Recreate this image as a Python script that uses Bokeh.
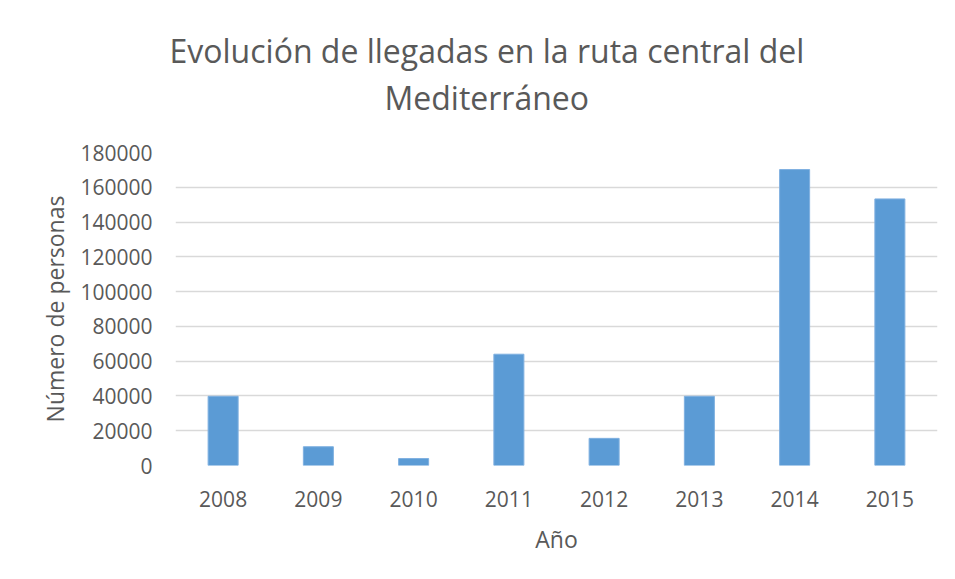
from bokeh.plotting import figure
from bokeh.models import FixedTicker, NumeralTickFormatter, ColumnDataSource, Range1d, FactorRange, Title
from bokeh.embed import file_html
from bokeh.resources import INLINE

years = ["2008", "2009", "2010", "2011", "2012", "2013", "2014", "2015"]
arrivals = [39800, 10800, 4000, 64000, 15600, 39800, 170200, 153300]
y_ticks = [0, 20000, 40000, 60000, 80000, 100000, 120000, 140000, 160000, 180000]
title_lines = ["Evolución de llegadas en la ruta central del", "Mediterráneo"]

TEXT = "#595959"
FONT = "Open Sans"

src = ColumnDataSource(dict(year=years, value=arrivals))

p = figure(
    x_range=FactorRange(*years), y_range=Range1d(0, 180000),
    width=947, height=571, output_backend="svg", toolbar_location=None,
    min_border_left=175, min_border_right=10, min_border_top=152, min_border_bottom=106,
)
p.vbar(x="year", top="value", width=0.315, source=src,
       fill_color="#5b9bd5", line_color="#7fb0e0", line_width=1)

# first title line (figure title, outermost)
p.title.text = title_lines[0]
p.title.align = "left"
p.title.offset = -6
p.title.text_font = FONT
p.title.text_font_size = "32px"
p.title.text_font_style = "normal"
p.title.text_color = TEXT
p.title.standoff = 0
# spacing between title block and plot area (first in 'above' -> nearest the plot)
p.add_layout(Title(text=" ", text_font_size="10px", standoff=19), "above")
# second title line
p.add_layout(Title(text=title_lines[1], align="left", offset=209, text_font=FONT,
                   text_font_size="32px", text_font_style="normal",
                   text_color=TEXT, standoff=4), "above")

p.outline_line_color = None
p.xgrid.grid_line_color = None
p.ygrid.grid_line_color = "#d9d9d9"
p.ygrid.grid_line_width = 1.5
p.ygrid.ticker = FixedTicker(ticks=y_ticks)

p.yaxis.ticker = FixedTicker(ticks=y_ticks)
p.yaxis.formatter = NumeralTickFormatter(format="0")
for ax in (p.xaxis[0], p.yaxis[0]):
    ax.axis_line_color = None
    ax.major_tick_line_color = None
    ax.minor_tick_line_color = None
    ax.major_label_text_font = FONT
    ax.major_label_text_font_size = "21px"
    ax.major_label_text_color = TEXT
    ax.axis_label_text_font = FONT
    ax.axis_label_text_font_size = "23px"
    ax.axis_label_text_font_style = "normal"
    ax.axis_label_text_color = TEXT

p.yaxis.axis_label = "Número de personas"
p.xaxis.axis_label = "Año"
p.yaxis.major_label_standoff = 17
p.xaxis.major_label_standoff = 19
p.xaxis.axis_label_standoff = 13
p.yaxis.axis_label_standoff = 6

open("out.html", "w").write(file_html(p, INLINE))
